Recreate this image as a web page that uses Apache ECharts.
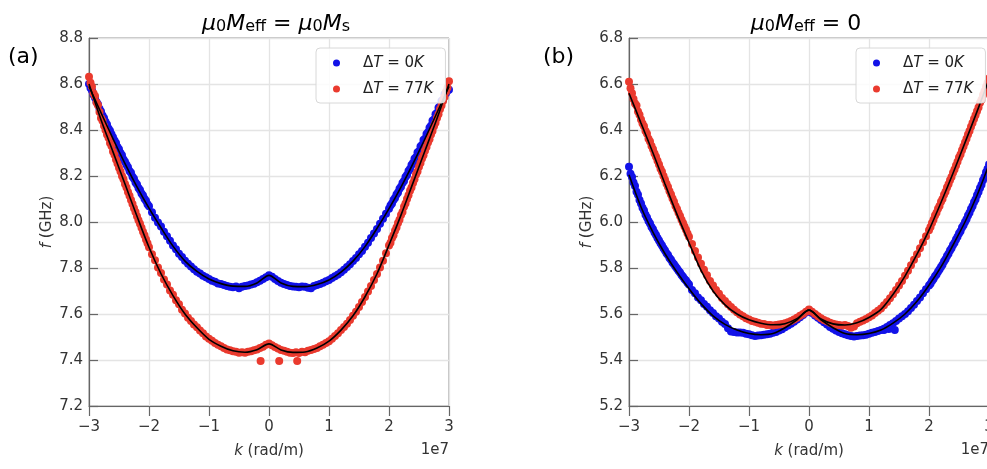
<!DOCTYPE html>
<html><head><meta charset="utf-8">
<script src="https://cdn.jsdelivr.net/npm/echarts@6/dist/echarts.min.js"></script>
<style>html,body{margin:0;padding:0;background:#fff}#c{width:987px;height:469px}</style>
</head><body><div id="c"></div>
<script>
// k in units of 1e7 rad/m (three sampling segments shared by all point series)
const kLeft = [-3.000,-2.975,-2.950,-2.925,-2.900,-2.875,-2.850,-2.825,-2.800,-2.775,-2.750,-2.725,-2.700,-2.675,-2.650,-2.625,-2.600,-2.575,-2.550,-2.525,-2.500,-2.475,-2.450,-2.425,-2.400,-2.375,-2.350,-2.325,-2.300,-2.275,-2.250,-2.225,-2.200,-2.175,-2.150,-2.125,-2.100,-2.075,-2.050,-2.025,-2.000];
const kMid = [-1.95,-1.90,-1.85,-1.80,-1.75,-1.70,-1.65,-1.60,-1.55,-1.50,-1.45,-1.40,-1.35,-1.30,-1.25,-1.20,-1.15,-1.10,-1.05,-1.00,-0.95,-0.90,-0.85,-0.80,-0.75,-0.70,-0.65,-0.60,-0.55,-0.50,-0.45,-0.40,-0.35,-0.30,-0.25,-0.20,-0.15,-0.10,-0.05,0.00,0.05,0.10,0.15,0.20,0.25,0.30,0.35,0.40,0.45,0.50,0.55,0.60,0.65,0.70,0.75,0.80,0.85,0.90,0.95,1.00,1.05,1.10,1.15,1.20,1.25,1.30,1.35,1.40,1.45,1.50,1.55,1.60,1.65,1.70,1.75,1.80,1.85,1.90,1.95];
const kRight = [2.000,2.025,2.050,2.075,2.100,2.125,2.150,2.175,2.200,2.225,2.250,2.275,2.300,2.325,2.350,2.375,2.400,2.425,2.450,2.475,2.500,2.525,2.550,2.575,2.600,2.625,2.650,2.675,2.700,2.725,2.750,2.775,2.800,2.825,2.850,2.875,2.900,2.925,2.950,2.975,3.000];

// panel (a): mu0 Meff = mu0 Ms — measured points (GHz)
const fBlueA = [
  8.600,8.583,8.572,8.553,8.540,8.522,8.511,8.492,8.480,8.463,8.452,8.436,8.424,8.407,8.397,8.381,8.368,8.354,8.343,8.326,8.316,8.300,8.290,8.272,8.262,8.249,8.238,8.222,8.214,8.197,8.188,8.172,8.163,8.148,8.139,8.124,8.115,8.101,8.092,8.077,8.068,
  8.042,8.018,7.998,7.980,7.958,7.938,7.918,7.898,7.882,7.862,7.848,7.832,7.818,7.806,7.795,7.784,7.776,7.766,7.760,7.752,7.745,7.740,7.733,7.730,7.726,7.722,7.718,7.716,7.720,7.712,7.718,7.722,7.724,7.728,7.732,7.738,7.745,7.752,7.760,
  7.768,7.762,7.752,7.744,7.736,7.730,7.726,7.722,7.720,7.718,7.716,7.720,7.718,7.714,7.712,7.722,7.726,7.730,7.736,7.742,7.748,7.756,7.764,7.772,7.782,7.792,7.804,7.816,7.830,7.844,7.860,7.874,7.892,7.910,7.930,7.950,7.970,7.992,8.014,8.036,
  8.058,8.072,8.080,8.096,8.104,8.120,8.128,8.145,8.153,8.170,8.178,8.196,8.204,8.222,8.230,8.248,8.256,8.275,8.282,8.302,8.308,8.328,8.335,8.356,8.362,8.383,8.390,8.410,8.418,8.440,8.446,8.468,8.474,8.497,8.503,8.526,8.532,8.555,8.560,8.572,8.575];
const fRedA = [
  8.632,8.605,8.588,8.560,8.548,8.520,8.508,8.478,8.452,8.440,8.418,8.400,8.380,8.366,8.344,8.330,8.306,8.292,8.272,8.254,8.236,8.220,8.200,8.186,8.165,8.150,8.130,8.114,8.096,8.078,8.060,8.044,8.025,8.008,7.992,7.975,7.958,7.942,7.924,7.908,7.890,
  7.860,7.834,7.802,7.778,7.750,7.728,7.702,7.684,7.660,7.642,7.618,7.602,7.584,7.570,7.554,7.542,7.528,7.516,7.502,7.492,7.484,7.474,7.466,7.460,7.452,7.446,7.442,7.438,7.436,7.432,7.434,7.432,7.436,7.438,7.442,7.446,7.452,7.458,7.466,
  7.472,7.464,7.456,7.450,7.444,7.440,7.436,7.432,7.430,7.434,7.430,7.436,7.434,7.440,7.444,7.448,7.452,7.460,7.466,7.474,7.482,7.492,7.504,7.516,7.530,7.544,7.558,7.574,7.592,7.610,7.630,7.652,7.674,7.698,7.722,7.748,7.774,7.802,7.832,7.864,
  7.898,7.910,7.930,7.942,7.962,7.976,7.996,8.010,8.030,8.044,8.066,8.080,8.100,8.116,8.136,8.150,8.170,8.186,8.206,8.220,8.240,8.256,8.276,8.290,8.310,8.326,8.346,8.360,8.380,8.396,8.416,8.432,8.452,8.468,8.490,8.506,8.526,8.544,8.566,8.584,8.612];
const kOutRedA = [-0.14,0.17,0.47];
const fOutRedA = [7.396,7.396,7.396];

// panel (b): mu0 Meff = 0 — measured points (GHz)
const fBlueB = [
  6.240,6.210,6.196,6.172,6.156,6.132,6.118,6.096,6.080,6.062,6.050,6.032,6.020,6.004,5.994,5.978,5.968,5.954,5.944,5.930,5.920,5.908,5.898,5.886,5.876,5.864,5.856,5.844,5.836,5.824,5.816,5.806,5.798,5.788,5.780,5.770,5.762,5.752,5.746,5.736,5.728,
  5.704,5.690,5.672,5.660,5.644,5.632,5.616,5.604,5.590,5.580,5.566,5.556,5.538,5.524,5.522,5.520,5.520,5.518,5.514,5.512,5.508,5.504,5.506,5.508,5.510,5.512,5.514,5.518,5.522,5.528,5.534,5.542,5.550,5.558,5.566,5.576,5.586,5.596,5.606,
  5.616,5.604,5.594,5.584,5.574,5.564,5.554,5.544,5.536,5.528,5.522,5.516,5.512,5.508,5.504,5.502,5.504,5.506,5.508,5.510,5.514,5.518,5.522,5.526,5.530,5.536,5.544,5.552,5.560,5.570,5.580,5.590,5.600,5.612,5.626,5.640,5.656,5.672,5.690,5.708,
  5.724,5.732,5.744,5.752,5.764,5.772,5.784,5.794,5.804,5.814,5.828,5.838,5.852,5.862,5.876,5.886,5.900,5.910,5.924,5.936,5.950,5.960,5.976,5.986,6.000,6.012,6.028,6.040,6.056,6.068,6.086,6.098,6.116,6.130,6.148,6.162,6.182,6.196,6.216,6.230,6.250];
const fRedB = [
  6.610,6.582,6.560,6.535,6.515,6.506,6.480,6.466,6.446,6.428,6.416,6.396,6.384,6.362,6.350,6.330,6.316,6.298,6.284,6.266,6.250,6.232,6.218,6.200,6.184,6.166,6.152,6.134,6.120,6.102,6.088,6.070,6.056,6.040,6.026,6.010,5.996,5.980,5.966,5.950,5.936,
  5.904,5.874,5.846,5.818,5.792,5.768,5.744,5.724,5.704,5.688,5.670,5.656,5.642,5.630,5.618,5.608,5.598,5.590,5.582,5.576,5.570,5.566,5.562,5.558,5.556,5.552,5.552,5.550,5.552,5.554,5.556,5.560,5.564,5.570,5.576,5.584,5.592,5.600,5.610,
  5.620,5.610,5.600,5.590,5.582,5.574,5.568,5.562,5.558,5.554,5.552,5.550,5.552,5.548,5.540,5.546,5.560,5.566,5.572,5.578,5.586,5.594,5.604,5.614,5.624,5.638,5.652,5.668,5.686,5.704,5.724,5.744,5.766,5.788,5.812,5.836,5.860,5.886,5.912,5.938,
  5.964,5.978,5.996,6.010,6.028,6.040,6.058,6.070,6.088,6.100,6.118,6.132,6.150,6.164,6.182,6.196,6.214,6.228,6.246,6.262,6.280,6.294,6.312,6.328,6.346,6.362,6.380,6.396,6.414,6.430,6.448,6.464,6.482,6.498,6.518,6.532,6.552,6.568,6.588,6.604,6.624];
const kOutBlueB = [1.25,1.33,1.43];
const fOutBlueB = [5.53,5.535,5.53];

// fitted curves (black lines)
const kFit = [-3.0,-2.8,-2.6,-2.4,-2.2,-2.0,-1.8,-1.6,-1.4,-1.2,-1.0,-0.8,-0.6,-0.4,-0.2,0.0,0.2,0.4,0.6,0.8,1.0,1.2,1.4,1.6,1.8,2.0,2.2,2.4,2.6,2.8,3.0];
const fitBlueA = [8.59,8.475,8.362,8.254,8.153,8.06,7.975,7.895,7.83,7.785,7.752,7.732,7.721,7.72,7.735,7.768,7.735,7.72,7.719,7.728,7.748,7.782,7.83,7.893,7.972,8.058,8.152,8.254,8.362,8.475,8.59];
const fitRedA = [8.60,8.445,8.305,8.165,8.025,7.89,7.775,7.68,7.60,7.54,7.49,7.46,7.44,7.434,7.445,7.47,7.444,7.433,7.435,7.452,7.482,7.53,7.592,7.675,7.775,7.90,8.03,8.17,8.31,8.45,8.60];
const fitBlueB = [6.205,6.065,5.955,5.862,5.782,5.71,5.645,5.592,5.555,5.53,5.515,5.51,5.515,5.54,5.575,5.617,5.575,5.54,5.515,5.51,5.515,5.53,5.56,5.60,5.655,5.725,5.805,5.90,6.00,6.115,6.25];
const fitRedB = [6.56,6.43,6.30,6.165,6.033,5.91,5.79,5.70,5.64,5.60,5.575,5.56,5.553,5.558,5.58,5.617,5.578,5.557,5.552,5.562,5.585,5.62,5.685,5.765,5.86,5.965,6.085,6.212,6.345,6.48,6.62];

const xTicks = [-3,-2,-1,0,1,2,3];
const yTicksA = [7.2,7.4,7.6,7.8,8.0,8.2,8.4,8.6,8.8];
const yTicksB = [5.2,5.4,5.6,5.8,6.0,6.2,6.4,6.6,6.8];
const seriesNames = ['ΔT = 0K','ΔT = 77K'];

const FONT = 'DejaVu Sans';
const BLUE = '#1212e8', RED = '#ea3a2e';
const kPts = kLeft.concat(kMid, kRight);
const zip = (xs, ys) => xs.map((x, i) => [x, ys[i]]);

function xAxisCfg(gi) {
  return {
    type: 'value', gridIndex: gi, min: xTicks[0], max: xTicks[xTicks.length-1], interval: 1,
    axisLine: {show: true, onZero: false, lineStyle: {color: '#666', width: 1.2}},
    axisTick: {show: true, inside: false, length: 10, lineStyle: {color: '#666', width: 1.2}},
    axisLabel: {margin: 14, fontSize: 15, fontFamily: FONT, color: '#333',
      formatter: v => String(v).replace('-', '\u2212')},
    splitLine: {show: true, lineStyle: {color: '#e4e4e4', width: 1.3}},
    name: '{i|k}{n| (rad/m)}', nameLocation: 'middle', nameGap: 38,
    nameTextStyle: {fontSize: 15, fontFamily: FONT, color: '#333',
      rich: {i: {fontStyle: 'italic', fontSize: 15, fontFamily: FONT, color: '#333'},
             n: {fontSize: 15, fontFamily: FONT, color: '#333'}}}
  };
}
function yAxisCfg(gi, ticks) {
  return {
    type: 'value', gridIndex: gi, min: ticks[0], max: ticks[ticks.length-1], interval: 0.2,
    axisLine: {show: true, onZero: false, lineStyle: {color: '#666', width: 1.2}},
    axisTick: {show: true, inside: true, length: 9, lineStyle: {color: '#666', width: 1.2}},
    axisLabel: {margin: 6, fontSize: 15, fontFamily: FONT, color: '#333', formatter: v => v.toFixed(1)},
    splitLine: {show: true, lineStyle: {color: '#e4e4e4', width: 1.3}},
    name: '{i|f}{n| (GHz)}', nameLocation: 'middle', nameGap: 34, nameRotate: 90,
    nameTextStyle: {fontSize: 15, fontFamily: FONT, color: '#333',
      rich: {i: {fontStyle: 'italic', fontSize: 15, fontFamily: FONT, color: '#333'},
             n: {fontSize: 15, fontFamily: FONT, color: '#333'}}}
  };
}
function legendCfg(left) {
  return {
    orient: 'vertical', left: left, top: 48, padding: [6, 12, 5, 17],
    itemWidth: 7, itemHeight: 7, itemGap: 8, icon: 'circle',
    backgroundColor: 'rgba(255,255,255,0.85)', borderColor: '#d8d8d8', borderWidth: 1, borderRadius: 4,
    data: seriesNames,
    formatter: name => {
      const num = name.replace(/[^0-9]/g, '');
      return '{d|Δ}{i|T}{n| = ' + num + '}{i|K}';
    },
    textStyle: {fontSize: 15, fontFamily: FONT, color: '#222', lineHeight: 18,
      rich: {
        d: {fontSize: 15, fontFamily: FONT, color: '#222', padding: [0, 0, 0, 18], lineHeight: 18},
        n: {fontSize: 15, fontFamily: FONT, color: '#222', lineHeight: 18},
        i: {fontSize: 15, fontFamily: FONT, color: '#222', fontStyle: 'italic', lineHeight: 18}
      }}
  };
}
function scatter(name, color, xi, data) {
  return {type: 'scatter', name: name, xAxisIndex: xi, yAxisIndex: xi, data: data,
    symbol: 'circle', symbolSize: 8, itemStyle: {color: color, opacity: 1}, silent: true, z: 2};
}
function fit(xi, ys) {
  return {type: 'line', name: 'fit', xAxisIndex: xi, yAxisIndex: xi, data: zip(kFit, ys),
    showSymbol: false, smooth: 0.3, lineStyle: {color: '#000', width: 1.6}, silent: true, z: 3};
}

const titleRich = {
  i: {fontSize: 22, fontFamily: FONT, fontStyle: 'italic', color: '#000', lineHeight: 26, verticalAlign: 'bottom'},
  n: {fontSize: 22, fontFamily: FONT, color: '#000', lineHeight: 26, verticalAlign: 'bottom'},
  s: {fontSize: 16, fontFamily: FONT, color: '#000', lineHeight: 19, verticalAlign: 'bottom'}
};

const chart = echarts.init(document.getElementById('c'), null, {renderer: 'canvas'});
chart.setOption({
  animation: false,
  backgroundColor: '#fff',
  grid: [
    {left: 89, top: 38, width: 360, height: 368, show: true, borderColor: '#8a8a8a', borderWidth: 1, backgroundColor: 'transparent', containLabel: false, outerBoundsMode: 'none'},
    {left: 629, top: 38, width: 360, height: 368, show: true, borderColor: '#8a8a8a', borderWidth: 1, backgroundColor: 'transparent', containLabel: false, outerBoundsMode: 'none'}
  ],
  xAxis: [xAxisCfg(0), xAxisCfg(1)],
  yAxis: [yAxisCfg(0, yTicksA), yAxisCfg(1, yTicksB)],
  legend: [legendCfg(316), legendCfg(856)],
  series: [
    scatter(seriesNames[0], BLUE, 0, zip(kPts, fBlueA)),
    scatter(seriesNames[1], RED, 0, zip(kPts, fRedA).concat(zip(kOutRedA, fOutRedA))),
    scatter(seriesNames[0], BLUE, 1, zip(kPts, fBlueB).concat(zip(kOutBlueB, fOutBlueB))),
    scatter(seriesNames[1], RED, 1, zip(kPts, fRedB)),
    fit(0, fitBlueA), fit(0, fitRedA), fit(1, fitBlueB), fit(1, fitRedB)
  ],
  graphic: [
    {type: 'text', x: 276, y: 22, style: {text: '{i|μ}{s|0}{i|M}{s|eff}{n| = }{i|μ}{s|0}{i|M}{s|s}', rich: titleRich, align: 'center', verticalAlign: 'middle'}},
    {type: 'text', x: 806, y: 22, style: {text: '{i|μ}{s|0}{i|M}{s|eff}{n| = 0}', rich: titleRich, align: 'center', verticalAlign: 'middle'}},
    {type: 'text', x: 8, y: 57, style: {text: '(a)', fontSize: 22, fontFamily: FONT, fill: '#000', align: 'left', verticalAlign: 'middle'}},
    {type: 'text', x: 543, y: 57, style: {text: '(b)', fontSize: 22, fontFamily: FONT, fill: '#000', align: 'left', verticalAlign: 'middle'}},
    {type: 'text', x: 449, y: 450, style: {text: '1e7', fontSize: 15, fontFamily: FONT, fill: '#333', align: 'right', verticalAlign: 'middle'}},
    {type: 'text', x: 989, y: 450, style: {text: '1e7', fontSize: 15, fontFamily: FONT, fill: '#333', align: 'right', verticalAlign: 'middle'}}
  ]
});
</script>
</body></html>
